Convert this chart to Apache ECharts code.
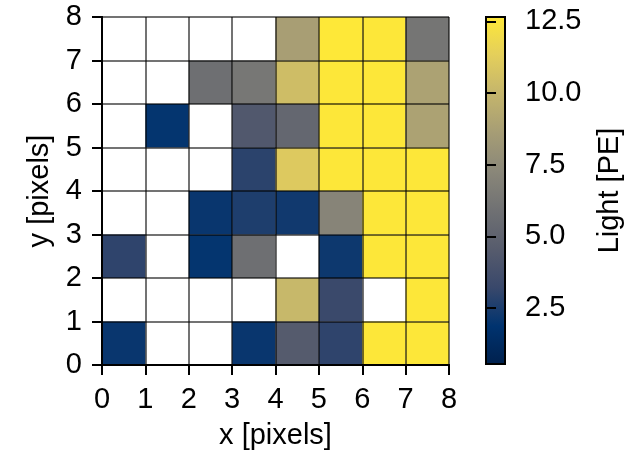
<!DOCTYPE html>
<html>
<head>
<meta charset="utf-8">
<script src="https://cdn.jsdelivr.net/npm/echarts@6/dist/echarts.min.js"></script>
<style>
html,body{margin:0;padding:0;background:#fff;}
#chart{width:636px;height:455px;}
</style>
</head>
<body>
<div id="chart"></div>
<script>
// Light [PE] per pixel; rows are y = 0..7 (bottom to top), columns x = 0..7; null = no data
const row0 = [2.1, null, null, 2.1, 4.5, 3.0, 12.6, 12.6];
const row1 = [null, null, null, null, 10.1, 3.3, null, 12.6];
const row2 = [3.0, null, 2.0, 5.8, null, 2.2, 12.6, 12.6];
const row3 = [null, null, 2.1, 2.6, 2.3, 7.1, 12.6, 12.6];
const row4 = [null, null, null, 2.9, 11.0, 12.6, 12.6, 12.6];
const row5 = [null, 2.0, null, 4.3, 5.3, 12.6, 12.6, 8.9];
const row6 = [null, null, 5.8, 6.3, 10.4, 12.6, 12.6, 8.9];
const row7 = [null, null, null, null, 8.7, 12.65, 12.6, 6.2];
const rows = [row0, row1, row2, row3, row4, row5, row6, row7];

const colorRange = [0.55, 12.65];
const colorbarTicks = [2.5, 5.0, 7.5, 10.0, 12.5];
const cividis = ['#00204D', '#00336F', '#39486B', '#575C6D', '#707173', '#8A8779', '#A69D75', '#C4B56C', '#E4CF5B', '#FEE838'];

const cells = [];
rows.forEach((r, y) => r.forEach((v, x) => { if (v !== null) cells.push([x, y, v]); }));

const FONT = 'Liberation Sans, Arial, sans-serif';
const FS = 29;
const edge = 'rgba(0,0,0,0.55)';

const chart = echarts.init(document.getElementById('chart'), null, {renderer: 'canvas'});

const mainAxisCommon = {
  type: 'value', min: 0, max: 8, interval: 1, gridIndex: 0, z: 5,
  axisLine: {show: true, lineStyle: {color: '#000', width: 2}},
  axisTick: {show: true, inside: false, length: 10, lineStyle: {color: '#000', width: 2}},
  axisLabel: {show: true, color: '#000', fontSize: FS, fontFamily: FONT, margin: 20},
  splitLine: {show: true, lineStyle: {color: edge, width: 2}},
  nameLocation: 'middle',
  nameTextStyle: {color: '#000', fontSize: FS, fontFamily: FONT}
};

const option = {
  backgroundColor: '#fff',
  animation: false,
  grid: [
    {left: 102, right: 187, top: 17, bottom: 90},
    {left: 486, width: 19, top: 17, bottom: 91}
  ],
  xAxis: [
    Object.assign({}, mainAxisCommon, {position: 'bottom', name: 'x [pixels]', nameGap: 56}),
    {type: 'value', gridIndex: 0, min: 0, max: 8, position: 'top', z: 5,
     axisLine: {show: true, lineStyle: {color: '#000', width: 2}},
     axisTick: {show: false}, axisLabel: {show: false}, splitLine: {show: false}},
    {type: 'value', gridIndex: 1, min: 0, max: 1, show: false}
  ],
  yAxis: [
    Object.assign({}, mainAxisCommon, {position: 'left', name: 'y [pixels]', nameGap: 47}),
    {type: 'value', gridIndex: 0, min: 0, max: 8, position: 'right', z: 5,
     axisLine: {show: true, lineStyle: {color: '#000', width: 2}},
     axisTick: {show: false}, axisLabel: {show: false}, splitLine: {show: false}},
    {type: 'value', gridIndex: 1, min: colorRange[0], max: colorRange[1], position: 'right', z: 5,
     axisLine: {show: false},
     axisTick: {show: true, length: 10, customValues: colorbarTicks, lineStyle: {color: '#000', width: 2}},
     axisLabel: {show: true, color: '#000', fontSize: FS, fontFamily: FONT, margin: 20,
                 customValues: colorbarTicks, formatter: v => Number(v).toFixed(1)},
     splitLine: {show: false},
     name: 'Light [PE]', nameLocation: 'middle', nameGap: 90, nameRotate: 90,
     nameTextStyle: {color: '#000', fontSize: FS, fontFamily: FONT}}
  ],
  visualMap: {
    type: 'continuous', show: false, seriesIndex: 0, dimension: 2,
    min: colorRange[0], max: colorRange[1],
    inRange: {color: cividis}
  },
  series: [
    {
      type: 'custom', xAxisIndex: 0, yAxisIndex: 0, z: 2,
      encode: {x: 0, y: 1},
      data: cells,
      renderItem: function (params, api) {
        const x = api.value(0), y = api.value(1);
        const p0 = api.coord([x, y + 1]);
        const p1 = api.coord([x + 1, y]);
        return {type: 'rect', shape: {x: p0[0], y: p0[1], width: p1[0] - p0[0], height: p1[1] - p0[1]},
                style: {fill: api.visual('color'), stroke: null}};
      }
    },
    {
      type: 'custom', xAxisIndex: 2, yAxisIndex: 2, z: 2,
      data: [[colorRange[0], colorRange[1]]],
      encode: {y: [0, 1]},
      renderItem: function (params, api) {
        const p0 = api.coord([0, api.value(1)]);
        const p1 = api.coord([1, api.value(0)]);
        const stops = cividis.map((c, i) => ({offset: i / (cividis.length - 1), color: c}));
        return {type: 'rect', shape: {x: p0[0], y: p0[1], width: p1[0] - p0[0], height: p1[1] - p0[1]},
                style: {fill: new echarts.graphic.LinearGradient(0, 1, 0, 0, stops), stroke: '#000', lineWidth: 2}};
      }
    }
  ]
};
chart.setOption(option);
</script>
</body>
</html>
